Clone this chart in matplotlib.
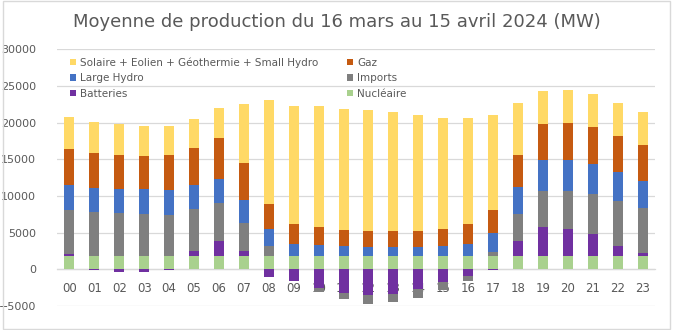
import numpy as np
import matplotlib
matplotlib.use("Agg")
import matplotlib.pyplot as plt
from matplotlib.patches import Rectangle

plt.rcParams['font.family'] = ['DejaVu Sans']

hours = ["00", "01", "02", "03", "04", "05", "06", "07", "08", "09", "10", "11",
         "12", "13", "14", "15", "16", "17", "18", "19", "20", "21", "22", "23"]

nucleaire = [1800] * 24
batteries = [300, -100, -350, -350, -150, 700, 2100, 740, -1000, -1650, -2550, -3250,
             -3500, -3370, -2650, -1700, -900, -150, 2060, 4000, 3700, 3060, 1430, 470]
imports = [6000, 5980, 5840, 5700, 5560, 5700, 5100, 3730, 1380, 0, -600, -750,
           -1200, -1150, -1200, -1100, -700, 560, 3690, 4880, 5200, 5440, 6130, 6130]
large_hydro = [3370, 3350, 3310, 3450, 3440, 3350, 3300, 3180, 2360, 1650, 1560, 1380,
               1200, 1200, 1290, 1380, 1650, 2540, 3650, 4200, 4200, 4100, 3940, 3600]
gaz = [4940, 4770, 4650, 4500, 4800, 5000, 5600, 5050, 3360, 2730, 2460, 2180,
       2220, 2220, 2130, 2320, 2730, 3200, 4400, 5000, 5100, 5000, 4900, 5000]
solaire = [4400, 4200, 4270, 4150, 4000, 3950, 4100, 8100, 14200, 16120, 16480, 16440,
           16480, 16180, 15830, 15200, 14420, 12950, 7050, 4400, 4450, 4500, 4500, 4500]

# stacked from the bottom up
series = [
    ("Nucléaire", nucleaire, "#A9D18E"),
    ("Batteries", batteries, "#7030A0"),
    ("Imports", imports, "#7F7F7F"),
    ("Large Hydro", large_hydro, "#4472C4"),
    ("Gaz", gaz, "#C55A11"),
    ("Solaire + Eolien + Géothermie + Small Hydro", solaire, "#FFD966"),
]

text_color = "#595959"
grid_color = "#D9D9D9"

fig = plt.figure(figsize=(6.73, 3.30), dpi=100)
ax = fig.add_axes([57 / 673, 1 - 306 / 330, (655 - 57) / 673, (306 - 49.3) / 330])

x = np.arange(len(hours))
pos_base = np.zeros(len(hours))
neg_base = np.zeros(len(hours))
handles = {}
for name, vals, color in series:
    v = np.asarray(vals, dtype=float)
    bottom = np.where(v >= 0, pos_base, neg_base)
    handles[name] = ax.bar(x, v, width=0.4, bottom=bottom, color=color, label=name, zorder=3)
    pos_base = np.where(v >= 0, pos_base + v, pos_base)
    neg_base = np.where(v < 0, neg_base + v, neg_base)

ax.set_xlim(-0.5, 23.5)
ax.set_ylim(-5000, 30000)
ax.set_yticks(np.arange(-5000, 30001, 5000))
ax.set_xticks(x)
ax.set_xticklabels(hours)
ax.set_axisbelow(True)
ax.yaxis.grid(True, color=grid_color, linewidth=0.9)
for side in ("top", "right", "left"):
    ax.spines[side].set_visible(False)
ax.spines["bottom"].set_position(("data", 0))
ax.spines["bottom"].set_color(grid_color)
ax.spines["bottom"].set_linewidth(0.9)
ax.tick_params(axis="x", length=0, pad=9, labelsize=8.5, labelcolor=text_color)
ax.tick_params(axis="y", length=0, pad=15, labelsize=8, labelcolor=text_color)

fig.text(0.5, 1 - 22 / 330, "Moyenne de production du 16 mars au 15 avril 2024 (MW)",
         ha="center", va="center", fontsize=13, color=text_color)

order = ["Solaire + Eolien + Géothermie + Small Hydro", "Large Hydro", "Batteries",
         "Gaz", "Imports", "Nucléaire"]
leg = ax.legend([handles[n] for n in order], order, ncol=2, frameon=False,
                loc="upper left", bbox_to_anchor=(70 / 673, 1 - 57 / 330),
                bbox_transform=fig.transFigure, fontsize=7.5,
                handlelength=0.55, handleheight=0.55, handletextpad=0.4,
                labelspacing=0.55, columnspacing=2.8, borderaxespad=0, borderpad=0)
for t in leg.get_texts():
    t.set_color(text_color)

fig.add_artist(Rectangle((3 / 673, 1 / 330), 667 / 673, 328 / 330, transform=fig.transFigure,
                         fill=False, edgecolor=grid_color, linewidth=1))

fig.savefig("out.png", dpi=100)
